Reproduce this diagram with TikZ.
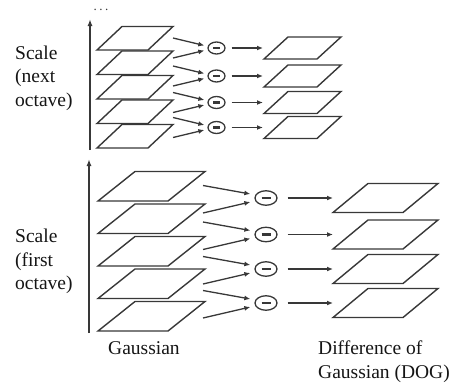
\documentclass[tikz,border=0pt]{standalone}
\usepackage{fontspec}
\setmainfont{Liberation Serif}
\newfontfamily\lblserif{Liberation Serif}
\usetikzlibrary{arrows.meta,shapes.geometric}
\definecolor{ink}{HTML}{383838}
\definecolor{txt}{HTML}{151515}
\begin{document}
\begin{tikzpicture}[x=1pt,y=-1pt,
  layer/.style={draw=ink, line width=1.4pt, fill=white, line join=miter},
  conn/.style={draw=ink, line width=1.3pt, -{Latex[length=6pt,width=5pt]}},
  axis/.style={draw=ink, line width=1.5pt, -{Latex[length=7pt,width=5pt]}},
  minusop/.style={draw=ink, line width=1.3pt, ellipse, inner sep=0pt, fill=white},
  lbl/.style={font=\lblserif\fontsize{19.5}{23.5}\selectfont, text=txt, inner sep=0pt, anchor=base west}
]
\useasboundingbox (0,0) rectangle (458,383);

% ---------- next octave ----------
\coordinate (ta0) at (90,150);
\coordinate (ta1) at (90,19);
\draw[axis] (ta0) -- (ta1);
\node[font=\lblserif\fontsize{13}{13}\selectfont, text=ink, inner sep=0pt] (tdots) at (101,10) {.\kern2.5pt.\kern2.5pt.};

\foreach \k in {0,...,4} {
  \pgfmathsetmacro\b{50+24.5*\k}
  \draw[layer] (97,\b) -- (148,\b) -- (173,\b-23.5) -- (122,\b-23.5) -- cycle;
}

\foreach \c [count=\i] in {48,76,102.5,127.5} {
  \node[minusop, minimum width=17pt, minimum height=12pt] (tm\i) at (216.5,\c) {\color{ink}\rule[-1.2pt]{7pt}{2.4pt}};
  \coordinate (tu\i) at (173,\c-10);
  \coordinate (tl\i) at (173,\c+10);
  \coordinate (td\i) at (263,\c);
  \draw[conn] (tu\i) -- ([shift={(-3,-2.5)}]tm\i.west);
  \draw[conn] (tl\i) -- ([shift={(-3,2.5)}]tm\i.west);
  \draw[conn] ([xshift=6pt]tm\i.east) -- (td\i);
  \draw[layer] (264,\c+11) -- (317,\c+11) -- (341,\c-11) -- (288,\c-11) -- cycle;
}

\node[lbl, align=left, anchor=north west] (tlabel) at (15,45.5) {Scale\\(next\\octave)};

% ---------- first octave ----------
\coordinate (ba0) at (89,333);
\coordinate (ba1) at (89,159);
\draw[axis] (ba0) -- (ba1);

\foreach \k in {0,...,4} {
  \pgfmathsetmacro\b{201+32.5*\k}
  \draw[layer] (98,\b) -- (168,\b) -- (205,\b-29.5) -- (135,\b-29.5) -- cycle;
}

\foreach \c [count=\i] in {198,234.5,269,303} {
  \node[minusop, minimum width=22pt, minimum height=14.5pt] (bm\i) at (266,\c) {\color{ink}\rule[-1.4pt]{9pt}{2.8pt}};
  \coordinate (bu\i) at (203,\c-12.5);
  \coordinate (bl\i) at (203,\c+15);
  \coordinate (bd\i) at (333,\c);
  \draw[conn] (bu\i) -- ([shift={(-4,-4)}]bm\i.west);
  \draw[conn] (bl\i) -- ([shift={(-4,4)}]bm\i.west);
  \draw[conn] ([xshift=10pt]bm\i.east) -- (bd\i);
  \draw[layer] (333,\c+14.5) -- (403,\c+14.5) -- (438,\c-14.5) -- (368,\c-14.5) -- cycle;
}

\node[lbl, align=left, anchor=north west] (blabel) at (15,229) {Scale\\(first\\octave)};

\node[lbl] (gauss) at (108,354) {Gaussian};
\node[lbl, align=left, anchor=north west] (dog) at (318,341) {Difference of\\Gaussian (DOG)};
\end{tikzpicture}
\end{document}
